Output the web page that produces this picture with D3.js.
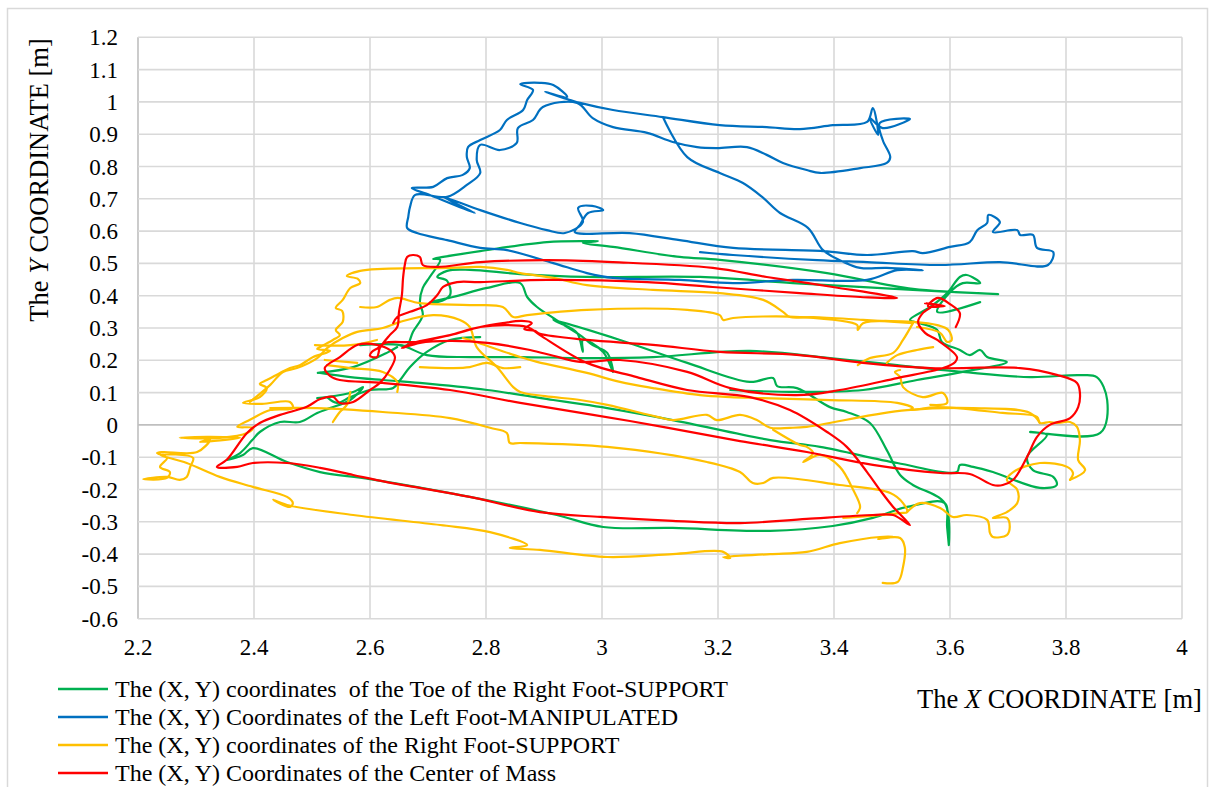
<!DOCTYPE html>
<html>
<head>
<meta charset="utf-8">
<script src="https://cdn.jsdelivr.net/npm/d3@7"></script>
<style>
  body { margin: 0; background: #fff; }
  svg { display: block; }
  text { font-family: 'Liberation Serif', 'Times New Roman', serif; fill: #000; }
</style>
</head>
<body>
<svg id="chart" width="1212" height="787"></svg>
<script>
// Tick labels
const xTickLabels = ['2.2', '2.4', '2.6', '2.8', '3', '3.2', '3.4', '3.6', '3.8', '4']
const yTickLabels = ['-0.6', '-0.5', '-0.4', '-0.3', '-0.2', '-0.1', '0', '0.1', '0.2', '0.3',
  '0.4', '0.5', '0.6', '0.7', '0.8', '0.9', '1', '1.1', '1.2']

const seriesNames = [
  'The (X, Y) coordinates  of the Toe of the Right Foot-SUPPORT',
  'The (X, Y) Coordinates of the Left Foot-MANIPULATED',
  'The (X, Y) coordinates of the Right Foot-SUPPORT',
  'The (X, Y) Coordinates of the Center of Mass'
]
const seriesColors = ['#00b050', '#0070c0', '#ffc000', '#ff0000']

// Toe of the right foot (support)
const toeA = [[2.514,0.161],[2.566,0.148],[2.622,0.139],[2.686,0.130],[2.802,0.108],[2.916,0.077],[2.950,0.068],[3.009,0.052],[3.122,0.015],[3.290,-0.047],[3.376,-0.068],[3.509,-0.118],[3.612,-0.146],[3.617,-0.124],[3.640,-0.130],[3.674,-0.146],[3.755,-0.195],[3.784,-0.186],[3.778,-0.161],[3.743,-0.140],[3.733,-0.099],[3.767,-0.031],[3.738,-0.022],[3.859,-0.025],[3.871,0.077],[3.853,0.148],[3.824,0.154],[3.738,0.148],[3.622,0.164],[3.509,0.185],[3.393,0.207],[3.255,0.229],[3.088,0.210],[2.974,0.207],[2.859,0.210],[2.772,0.210],[2.698,0.216],[2.652,0.247],[2.583,0.247]]
const toeB = [[2.652,0.247],[2.664,0.247],[2.674,0.288],[2.691,0.340],[2.686,0.380],[2.691,0.424],[2.703,0.458],[2.721,0.511],[2.709,0.514],[2.726,0.520],[2.790,0.538],[2.905,0.566],[2.976,0.569],[2.993,0.569],[2.967,0.563],[3.019,0.551],[3.134,0.520],[3.203,0.511],[3.388,0.470],[3.536,0.421],[3.683,0.405],[3.536,0.418],[3.329,0.439],[3.169,0.458],[2.974,0.458],[2.859,0.467],[2.772,0.480],[2.733,0.477],[2.716,0.458],[2.733,0.446],[2.738,0.402],[2.716,0.380],[2.703,0.380],[2.743,0.396],[2.802,0.424],[2.859,0.439],[2.871,0.396],[2.888,0.365],[2.916,0.331],[2.940,0.303],[2.962,0.278],[2.984,0.247],[3.009,0.223],[3.019,0.164],[3.002,0.226],[2.967,0.263],[2.967,0.226],[2.957,0.285],[2.928,0.315],[2.916,0.325],[3.031,0.263],[3.147,0.192],[3.255,0.133],[3.295,0.145],[3.302,0.120],[3.336,0.114],[3.393,0.055],[3.422,0.040],[3.462,0.006],[3.491,-0.078],[3.514,-0.155],[3.536,-0.186],[3.591,-0.242],[3.598,-0.372],[3.595,-0.316],[3.591,-0.242],[3.526,-0.254],[3.467,-0.288],[3.398,-0.313],[3.290,-0.328],[3.122,-0.319],[3.002,-0.316],[2.922,-0.279],[2.772,-0.223],[2.600,-0.168],[2.514,-0.146],[2.457,-0.115],[2.398,-0.072],[2.381,-0.093],[2.353,-0.109],[2.376,-0.087],[2.397,-0.047],[2.410,-0.022],[2.445,0.009],[2.479,0.009],[2.509,0.037],[2.531,0.052],[2.566,0.077],[2.588,0.117],[2.571,0.102],[2.526,0.086],[2.509,0.083]]
const toeC = [[3.221,0.108],[3.336,0.102],[3.450,0.108],[3.543,0.139],[3.622,0.164],[3.698,0.195],[3.664,0.210],[3.652,0.232],[3.634,0.216],[3.617,0.232],[3.586,0.257],[3.578,0.294],[3.548,0.315],[3.531,0.325],[3.566,0.365],[3.595,0.408],[3.617,0.458],[3.629,0.464],[3.652,0.439],[3.622,0.439],[3.600,0.411],[3.578,0.350],[3.652,0.380]]
const toeD = [[2.526,0.086],[2.543,0.068],[2.566,0.086],[2.600,0.108],[2.640,0.114],[2.652,0.139],[2.669,0.179],[2.698,0.226],[2.738,0.263],[2.790,0.272]]
const toeE = [[2.510,0.161],[2.571,0.179],[2.629,0.223],[2.647,0.241]]

// Left foot (manipulated)
const leftFoot = [[3.169,0.535],[3.226,0.526],[3.371,0.510],[3.457,0.504],[3.583,0.495],[3.686,0.504],[3.769,0.495],[3.778,0.535],[3.750,0.548],[3.743,0.588],[3.721,0.588],[3.716,0.603],[3.674,0.597],[3.686,0.628],[3.666,0.650],[3.664,0.625],[3.647,0.603],[3.634,0.566],[3.600,0.551],[3.553,0.532],[3.536,0.538],[3.457,0.526],[3.381,0.538],[3.226,0.548],[3.134,0.572],[3.048,0.594],[2.953,0.597],[2.962,0.619],[2.976,0.656],[3.002,0.665],[2.983,0.678],[2.959,0.672],[2.967,0.628],[2.936,0.594],[2.905,0.603],[2.859,0.625],[2.790,0.665],[2.726,0.706],[2.781,0.656],[2.703,0.712],[2.672,0.733],[2.709,0.737],[2.733,0.764],[2.760,0.774],[2.772,0.795],[2.767,0.829],[2.769,0.860],[2.790,0.882],[2.824,0.913],[2.836,0.944],[2.864,0.975],[2.871,1.006],[2.881,1.037],[2.859,1.055],[2.893,1.059],[2.916,1.052],[2.940,1.015],[2.902,1.031],[2.945,1.006],[2.962,0.997],[3.019,0.975],[3.105,0.953],[3.203,0.928],[3.284,0.922],[3.341,0.916],[3.398,0.928],[3.457,0.938],[3.467,0.981],[3.476,0.898],[3.462,0.950],[3.484,0.919],[3.531,0.947],[3.479,0.935],[3.484,0.882],[3.497,0.829],[3.491,0.811],[3.445,0.795],[3.376,0.780],[3.353,0.789],[3.312,0.811],[3.284,0.836],[3.250,0.860],[3.198,0.857],[3.164,0.860],[3.122,0.876],[3.078,0.904],[3.019,0.922],[2.984,0.950],[2.957,0.997],[2.898,0.984],[2.881,0.944],[2.855,0.919],[2.853,0.873],[2.824,0.851],[2.790,0.867],[2.784,0.820],[2.790,0.780],[2.767,0.743],[2.733,0.706],[2.678,0.712],[2.669,0.675],[2.666,0.644],[2.664,0.610],[2.681,0.594],[2.733,0.572],[2.790,0.548],[2.836,0.541],[2.916,0.501],[2.974,0.470],[3.019,0.455],[3.134,0.449],[3.226,0.439],[3.329,0.449],[3.457,0.449],[3.509,0.479],[3.553,0.479],[3.491,0.486],[3.445,0.486],[3.410,0.510],[3.381,0.541],[3.355,0.610],[3.307,0.656],[3.276,0.706],[3.243,0.749],[3.203,0.780],[3.147,0.829],[3.105,0.953]]

// Right foot (support)
const rightA = [[3.536,0.315],[3.450,0.325],[3.364,0.334],[3.324,0.334],[3.312,0.350],[3.278,0.387],[3.203,0.408],[3.088,0.418],[2.974,0.433],[2.916,0.455],[2.859,0.470],[2.836,0.480],[2.790,0.489],[2.738,0.486],[2.622,0.483],[2.583,0.477],[2.560,0.461],[2.579,0.452],[2.583,0.439],[2.566,0.424],[2.553,0.387],[2.541,0.362],[2.552,0.353],[2.553,0.319],[2.541,0.294],[2.548,0.278],[2.536,0.263],[2.514,0.241],[2.509,0.235],[2.531,0.229],[2.502,0.210],[2.479,0.185],[2.462,0.176],[2.445,0.161],[2.422,0.139],[2.410,0.127],[2.422,0.114],[2.410,0.086],[2.381,0.068],[2.414,0.065],[2.462,0.071],[2.467,0.052],[2.428,0.046],[2.393,0.016],[2.371,-0.006],[2.398,-0.009],[2.388,-0.025],[2.341,-0.040],[2.272,-0.040],[2.319,-0.037],[2.376,-0.040],[2.307,-0.053],[2.324,-0.047],[2.302,-0.084],[2.243,-0.084],[2.233,-0.087],[2.250,-0.102],[2.238,-0.130],[2.255,-0.146],[2.250,-0.164],[2.209,-0.168],[2.250,-0.161],[2.272,-0.170],[2.284,-0.161],[2.290,-0.130],[2.295,-0.102],[2.238,-0.093],[2.284,-0.118],[2.341,-0.161],[2.398,-0.192],[2.457,-0.223],[2.467,-0.242],[2.462,-0.254],[2.433,-0.232],[2.457,-0.248],[2.571,-0.279],[2.721,-0.310],[2.807,-0.332],[2.871,-0.372],[2.841,-0.381],[2.893,-0.387],[3.009,-0.409],[3.122,-0.400],[3.209,-0.393],[3.221,-0.412],[3.209,-0.409],[3.290,-0.400],[3.353,-0.393],[3.410,-0.366],[3.479,-0.347],[3.502,-0.347],[3.476,-0.353],[3.514,-0.350],[3.522,-0.378],[3.519,-0.440],[3.510,-0.486],[3.484,-0.489]]
const rightB = [[2.393,0.071],[2.428,0.124],[2.450,0.164],[2.474,0.176],[2.509,0.207],[2.526,0.238],[2.553,0.269],[2.578,0.288],[2.622,0.300],[2.652,0.319],[2.709,0.340],[2.755,0.325],[2.772,0.303],[2.784,0.241],[2.819,0.179],[2.847,0.117],[2.859,0.102],[2.902,0.089],[2.962,0.077],[3.009,0.062],[3.095,0.025],[3.122,0.015],[3.181,0.031],[3.198,0.015],[3.238,0.031],[3.267,0.015],[3.290,-0.009],[3.324,-0.009],[3.353,-0.006],[3.467,0.031],[3.526,0.046],[3.640,0.052],[3.738,0.037],[3.755,0.006]]
const rightC = [[2.583,0.365],[2.612,0.365],[2.634,0.387],[2.648,0.393],[2.686,0.377],[2.772,0.371],[2.829,0.365],[2.847,0.334],[2.871,0.340],[2.974,0.356],[3.147,0.356],[3.203,0.340],[3.209,0.325],[3.226,0.331],[3.341,0.334],[3.440,0.309],[3.441,0.294],[3.450,0.315],[3.536,0.319]]
const rightD = [[2.760,0.269],[2.772,0.263],[2.859,0.210],[2.888,0.195],[2.974,0.161],[3.031,0.133],[3.088,0.114],[3.169,0.092],[3.221,0.086],[3.278,0.083],[3.393,0.077],[3.509,0.068],[3.536,0.052],[3.531,0.046],[3.578,0.055],[3.691,0.037],[3.750,0.025],[3.755,0.006],[3.772,0.009],[3.784,0.006],[3.807,0.009],[3.819,-0.006],[3.824,-0.047],[3.821,-0.109],[3.833,-0.140],[3.807,-0.170]]
const rightE = [[2.428,0.052],[2.509,0.052],[2.622,0.040],[2.738,0.021],[2.807,-0.009],[2.836,-0.025],[2.841,-0.056],[2.859,-0.056],[3.009,-0.068],[3.181,-0.115],[3.238,-0.146],[3.260,-0.180],[3.278,-0.180],[3.295,-0.164],[3.410,-0.186],[3.497,-0.211],[3.519,-0.242],[3.526,-0.270],[3.514,-0.273],[3.416,-0.288]]
const rightF = [[3.295,-0.015],[3.341,-0.062],[3.353,-0.068],[3.364,-0.087],[3.347,-0.115],[3.376,-0.093],[3.410,-0.130],[3.433,-0.201],[3.445,-0.254],[3.440,-0.273]]
const rightG = [[3.526,-0.270],[3.548,-0.242],[3.583,-0.257],[3.605,-0.285],[3.629,-0.279],[3.664,-0.294],[3.669,-0.335],[3.674,-0.347],[3.698,-0.341],[3.703,-0.316],[3.698,-0.288],[3.674,-0.288],[3.698,-0.270],[3.716,-0.242],[3.716,-0.201],[3.698,-0.170],[3.709,-0.146],[3.755,-0.118],[3.802,-0.130],[3.812,-0.149],[3.807,-0.170]]
const rightBits = [
  [[3.536,0.315],[3.519,0.263],[3.502,0.223],[3.462,0.207],[3.441,0.185]],
  [[3.491,0.192],[3.509,0.216],[3.543,0.232],[3.571,0.241]],
  [[3.514,0.170],[3.505,0.164],[3.514,0.148],[3.519,0.117],[3.553,0.086],[3.588,0.099],[3.595,0.068],[3.566,0.062]],
  [[3.536,0.319],[3.578,0.309],[3.597,0.294],[3.603,0.263],[3.595,0.257],[3.583,0.285],[3.543,0.303]],
  [[2.505,0.247],[2.566,0.247],[2.612,0.263]],
  [[2.522,0.201],[2.578,0.192]],
  [[2.526,0.185],[2.566,0.176],[2.622,0.164],[2.647,0.133],[2.647,0.102]],
  [[2.566,0.102],[2.560,0.062],[2.548,0.040],[2.536,0.009]],
  [[2.686,0.179],[2.743,0.176],[2.772,0.179],[2.802,0.192],[2.829,0.176],[2.859,0.179]]
]

// Center of mass
const centerMass = [[3.610,0.303],[3.617,0.346],[3.600,0.374],[3.579,0.393],[3.562,0.368],[3.591,0.368],[3.557,0.377],[3.571,0.371],[3.553,0.346],[3.545,0.319],[3.557,0.285],[3.578,0.263],[3.612,0.210],[3.609,0.195],[3.588,0.176],[3.509,0.145],[3.410,0.108],[3.336,0.092],[3.221,0.114],[3.147,0.164],[3.031,0.201],[2.962,0.195],[2.916,0.214],[2.876,0.232],[2.802,0.254],[2.738,0.260],[2.686,0.254],[2.655,0.238],[2.681,0.257],[2.738,0.278],[2.790,0.303],[2.829,0.315],[2.862,0.322],[2.879,0.315],[2.866,0.297],[2.884,0.291],[2.893,0.282],[2.974,0.263],[3.088,0.248],[3.203,0.226],[3.336,0.217],[3.450,0.192],[3.566,0.176],[3.721,0.176],[3.784,0.155],[3.819,0.130],[3.824,0.099],[3.821,0.055],[3.807,0.021],[3.772,0.000],[3.750,-0.037],[3.733,-0.099],[3.709,-0.170],[3.691,-0.186],[3.674,-0.186],[3.634,-0.152],[3.583,-0.149],[3.467,-0.124],[3.353,-0.084],[3.238,-0.050],[3.048,0.012],[2.859,0.068],[2.738,0.108],[2.622,0.130],[2.548,0.139],[2.531,0.152],[2.522,0.176],[2.548,0.210],[2.579,0.248],[2.612,0.248],[2.634,0.232],[2.643,0.210],[2.634,0.170],[2.617,0.130],[2.600,0.108],[2.571,0.071],[2.548,0.068],[2.536,0.087],[2.514,0.080],[2.491,0.056],[2.445,0.031],[2.410,0.006],[2.388,-0.025],[2.353,-0.108],[2.336,-0.130],[2.371,-0.130],[2.398,-0.118],[2.457,-0.118],[2.514,-0.133],[2.571,-0.155],[2.629,-0.177],[2.686,-0.195],[2.772,-0.223],[2.893,-0.270],[2.997,-0.285],[3.122,-0.297],[3.238,-0.304],[3.353,-0.291],[3.467,-0.279],[3.502,-0.279],[3.531,-0.310],[3.502,-0.254],[3.479,-0.201],[3.457,-0.146],[3.422,-0.068],[3.388,-0.022],[3.324,0.046],[3.255,0.086],[3.147,0.108],[3.060,0.148],[2.974,0.192],[2.893,0.278],[2.871,0.303],[2.790,0.303],[2.738,0.278],[2.681,0.257],[2.626,0.254],[2.614,0.238],[2.603,0.226],[2.600,0.214],[2.612,0.210],[2.617,0.238],[2.634,0.278],[2.647,0.303],[2.650,0.350],[2.655,0.402],[2.657,0.455],[2.660,0.495],[2.664,0.520],[2.674,0.526],[2.686,0.520],[2.691,0.495],[2.716,0.489],[2.790,0.504],[2.905,0.510],[3.019,0.504],[3.191,0.486],[3.284,0.458],[3.398,0.427],[3.509,0.393],[3.445,0.396],[3.341,0.408],[3.191,0.427],[3.078,0.442],[2.905,0.449],[2.790,0.442],[2.750,0.442],[2.726,0.427],[2.716,0.402],[2.698,0.371],[2.669,0.350],[2.647,0.334],[2.640,0.315]]

// Drawing order follows the legend: green, blue, yellow, red on top
const series = [
  { strokes: [toeA, toeB, toeC, toeD, toeE] },
  { strokes: [leftFoot] },
  { strokes: [rightA, rightB, rightC, rightD, rightE, rightF, rightG, ...rightBits] },
  { strokes: [centerMass] }
]

const serif = "'Liberation Serif', 'Times New Roman', serif"
const svg = d3.select('#chart')
const plot = { left: 138, right: 1182, top: 37.3, bottom: 618.7 }

const x = d3.scaleLinear().domain([2.2, 4]).range([plot.left, plot.right])
const y = d3.scaleLinear().domain([-0.6, 1.2]).range([plot.bottom, plot.top])

// Outer chart frame
svg.append('rect')
  .attr('x', 7.5)
  .attr('y', 8.5)
  .attr('width', 1200)
  .attr('height', 800)
  .attr('fill', 'none')
  .attr('stroke', '#d9d9d9')
  .attr('stroke-width', 1.5)

// Gridlines
const grid = svg.append('g').attr('class', 'grid')

grid.selectAll('.vgrid')
  .data(xTickLabels)
  .join('line')
  .attr('class', 'vgrid')
  .attr('x1', (d) => x(+d))
  .attr('x2', (d) => x(+d))
  .attr('y1', plot.top)
  .attr('y2', plot.bottom)
  .attr('stroke', (d) => (+d === 2.2 ? '#bfbfbf' : '#d9d9d9'))
  .attr('stroke-width', 1.6)

grid.selectAll('.hgrid')
  .data(yTickLabels)
  .join('line')
  .attr('class', 'hgrid')
  .attr('x1', plot.left)
  .attr('x2', plot.right)
  .attr('y1', (d) => y(+d))
  .attr('y2', (d) => y(+d))
  .attr('stroke', (d) => (+d === 0 ? '#bfbfbf' : '#d9d9d9'))
  .attr('stroke-width', 1.6)

// Tick labels
svg.append('g')
  .selectAll('text')
  .data(xTickLabels)
  .join('text')
  .attr('x', (d) => x(+d))
  .attr('y', 655)
  .attr('text-anchor', 'middle')
  .attr('font-family', serif)
  .style('font-size', '23px')
  .text((d) => d)

svg.append('g')
  .selectAll('text')
  .data(yTickLabels)
  .join('text')
  .attr('x', 118)
  .attr('y', (d) => y(+d))
  .attr('dy', '0.35em')
  .attr('text-anchor', 'end')
  .attr('font-family', serif)
  .style('font-size', '23px')
  .text((d) => d)

// Axis titles
const yTitle = svg.append('text')
  .attr('transform', 'translate(48,180) rotate(-90)')
  .attr('text-anchor', 'middle')
  .attr('font-family', serif)
  .style('font-size', '26.5px')
yTitle.append('tspan').text('The ')
yTitle.append('tspan').style('font-style', 'italic').text('Y')
yTitle.append('tspan').text(' COORDINATE [m]')

const xTitle = svg.append('text')
  .attr('x', 917)
  .attr('y', 708)
  .attr('font-family', serif)
  .style('font-size', '26.5px')
xTitle.append('tspan').text('The ')
xTitle.append('tspan').style('font-style', 'italic').text('X')
xTitle.append('tspan').text(' COORDINATE [m]')

// The trajectories
const line = d3.line()
  .x((d) => x(d[0]))
  .y((d) => y(d[1]))
  .curve(d3.curveCatmullRom.alpha(0.5))

const traces = svg.append('g').attr('class', 'traces')
series.forEach((s, i) => {
  traces.append('g')
    .selectAll('path')
    .data(s.strokes)
    .join('path')
    .attr('d', line)
    .attr('fill', 'none')
    .attr('stroke', seriesColors[i])
    .attr('stroke-width', 2.2)
    .attr('stroke-linejoin', 'round')
    .attr('stroke-linecap', 'round')
})

// Legend
const legend = svg.append('g')
  .selectAll('g')
  .data(seriesNames)
  .join('g')
  .attr('transform', (_, i) => `translate(0, ${689 + i * 28})`)

legend.append('line')
  .attr('x1', 58)
  .attr('x2', 108)
  .attr('stroke', (_, i) => seriesColors[i])
  .attr('stroke-width', 2.5)

legend.append('text')
  .attr('x', 115)
  .attr('dy', '0.35em')
  .attr('font-family', serif)
  .style('font-size', '24px')
  .style('white-space', 'pre')
  .text((d) => d)
</script>
</body>
</html>
